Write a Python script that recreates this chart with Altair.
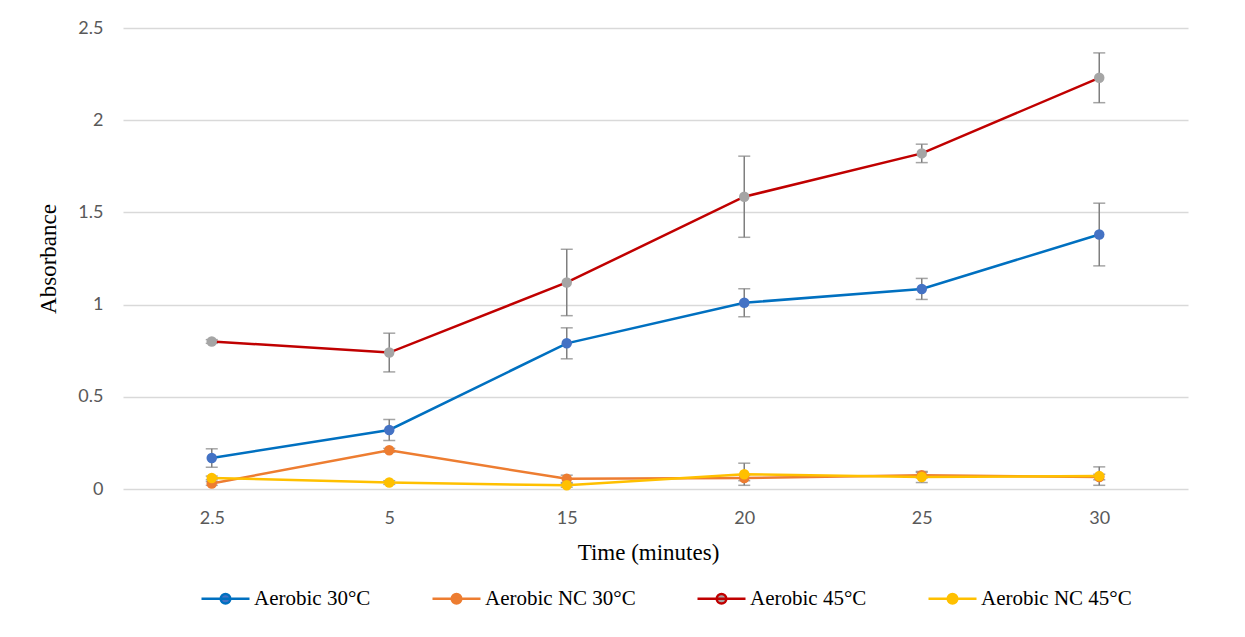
import altair as alt
import pandas as pd

times = ["2.5", "5", "15", "20", "25", "30"]
series_names = ["Aerobic 30°C", "Aerobic NC 30°C", "Aerobic 45°C", "Aerobic NC 45°C"]

aer30 = [0.168, 0.32, 0.79, 1.01, 1.085, 1.38]
aer30_err = [0.05, 0.057, 0.084, 0.076, 0.057, 0.17]
nc30 = [0.03, 0.21, 0.055, 0.06, 0.075, 0.065]
nc30_err = [0.01, 0.01, 0.02, 0.015, 0.015, 0.015]
aer45 = [0.80, 0.74, 1.12, 1.585, 1.82, 2.23]
aer45_err = [0.01, 0.105, 0.18, 0.22, 0.05, 0.135]
nc45 = [0.06, 0.035, 0.02, 0.08, 0.065, 0.07]
nc45_err = [0.01, 0.01, 0.01, 0.06, 0.03, 0.05]

line_colors = ["#0070C0", "#ED7D31", "#C00000", "#FFC000"]
marker_colors = ["#4472C4", "#ED7D31", "#A5A5A5", "#FFC000"]

rows = []
for name, vals, errs in zip(series_names, [aer30, nc30, aer45, nc45],
                            [aer30_err, nc30_err, aer45_err, nc45_err]):
    for i, (t, v, e) in enumerate(zip(times, vals, errs)):
        rows.append({"time": t, "series": name, "value": v,
                     "lo": v - e, "hi": v + e, "order": i})
df = pd.DataFrame(rows)

serif = "Liberation Serif"
sans = "Lato"

x_enc = alt.X("time:O", sort=times,
              scale=alt.Scale(type="point", padding=0.5),
              axis=alt.Axis(title="Time (minutes)", labelAngle=0, labelFont=sans,
                            labelFontSize=18, labelColor="#595959", labelPadding=20,
                            ticks=False, domain=False, grid=False,
                            titleFont=serif, titleFontSize=23, titleFontWeight="normal",
                            titleColor="#000000", titleX=525, titleY=63,
                            titleBaseline="middle", titleAlign="center"))
y_scale = alt.Scale(domain=[0, 2.5], nice=False)
y_axis = alt.Axis(title="Absorbance", values=[0, 0.5, 1, 1.5, 2, 2.5], format="~g",
                  labelFont=sans, labelFontSize=18, labelColor="#595959",
                  labelPadding=20, ticks=False, domain=False,
                  gridColor="#D9D9D9", gridWidth=1.3,
                  titleFont=serif, titleFontSize=23, titleFontWeight="normal",
                  titleColor="#000000", titleX=-75, titleY=230.5,
                  titleBaseline="middle", titleAlign="center")

base = alt.Chart(df)

err_rule = base.mark_rule(color="#7F7F7F", strokeWidth=1.5).encode(
    x=x_enc, y=alt.Y("lo:Q", scale=y_scale, axis=y_axis), y2="hi:Q")
err_lo = base.mark_tick(color="#7F7F7F", thickness=1.5, size=12, orient="horizontal").encode(
    x=x_enc, y=alt.Y("lo:Q", scale=y_scale))
err_hi = base.mark_tick(color="#7F7F7F", thickness=1.5, size=12, orient="horizontal").encode(
    x=x_enc, y=alt.Y("hi:Q", scale=y_scale))

legend_path = "M-1,0L1,0M0.2,0A0.2,0.2,0,1,1,-0.2,0A0.2,0.2,0,1,1,0.2,0Z"
leg = alt.Legend(title=None, orient="none", legendX=77, legendY=545,
                 direction="horizontal", symbolType=legend_path, symbolSize=2304,
                 symbolStrokeWidth=2.5, labelFont=serif, labelFontSize=21,
                 labelColor="#000000", labelOffset=3, columnPadding=56,
                 labelLimit=0)

lines = base.mark_line(strokeWidth=2.5).encode(
    x=x_enc, y=alt.Y("value:Q", scale=y_scale),
    stroke=alt.Stroke("series:N", sort=series_names,
                      scale=alt.Scale(domain=series_names, range=line_colors),
                      legend=leg),
    order="order:Q")
points = base.mark_point(filled=True, size=110, opacity=1).encode(
    x=x_enc, y=alt.Y("value:Q", scale=y_scale),
    fill=alt.Fill("series:N", sort=series_names,
                  scale=alt.Scale(domain=series_names, range=marker_colors),
                  legend=leg))

chart = alt.layer(err_rule, err_lo, err_hi, lines, points).properties(
    width=1065, height=461,
    autosize=alt.AutoSizeParams(type="none"),
    padding={"left": 115, "top": 20, "right": 45, "bottom": 130},
).configure(background="#FFFFFF").configure_view(stroke=None)

chart.save("out.html", embed_options={"renderer": "svg", "actions": False})
